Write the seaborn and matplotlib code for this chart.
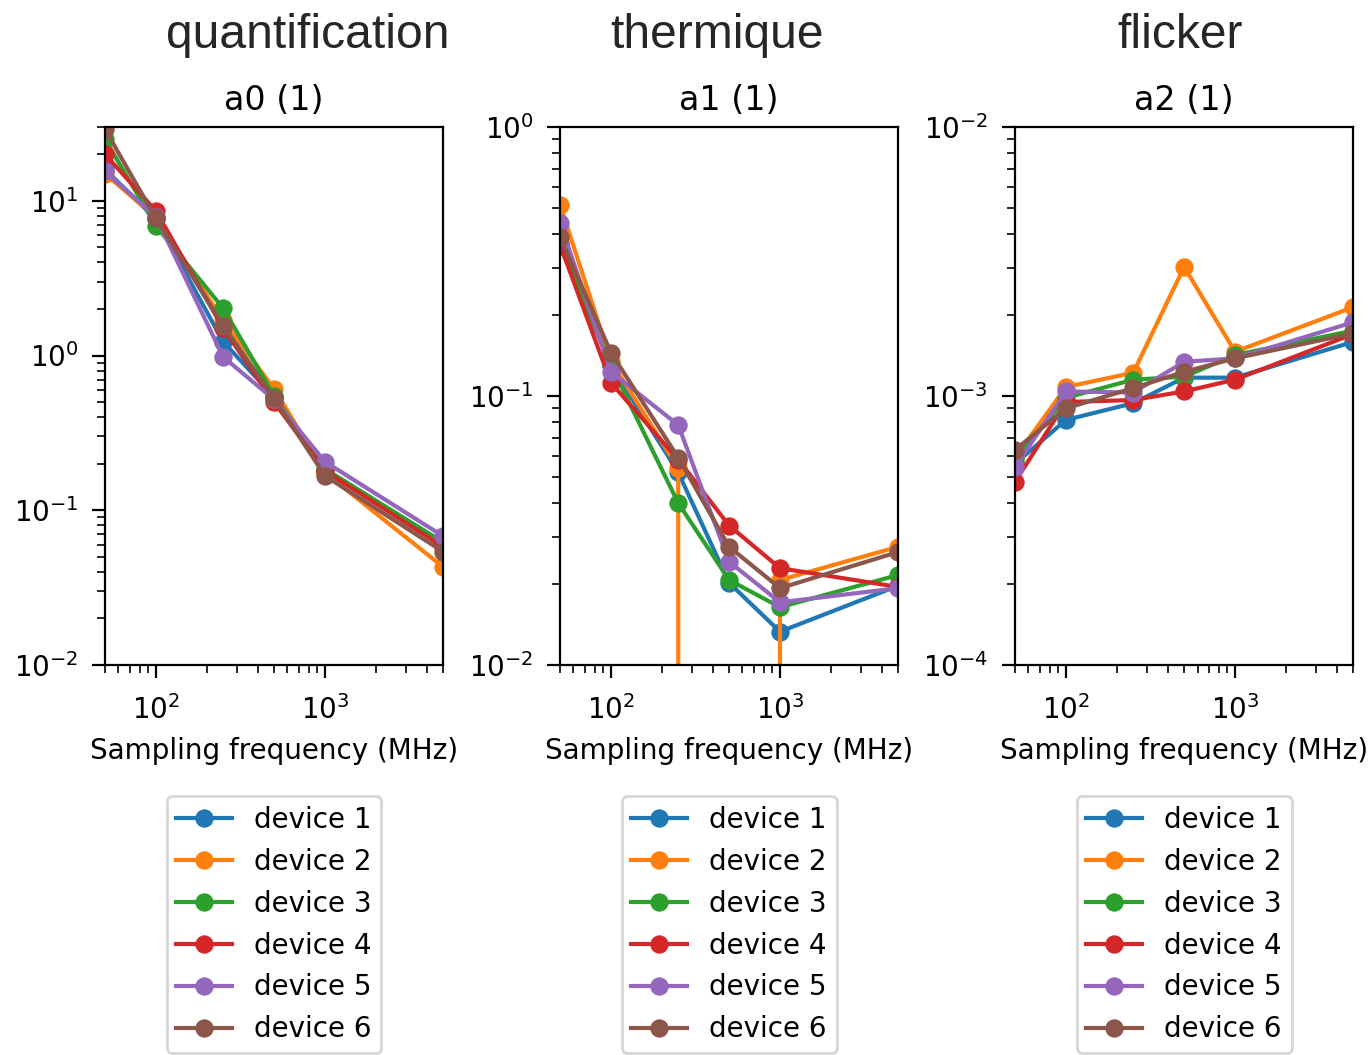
import numpy as np
import pandas as pd
import matplotlib
matplotlib.use("Agg")
import matplotlib.pyplot as plt
import seaborn as sns

freqs = [50, 100, 250, 500, 1000, 5000]
devices = ["device 1", "device 2", "device 3", "device 4", "device 5", "device 6"]
group_titles = ["quantification", "thermique", "flicker"]
panel_titles = ["a0 (1)", "a1 (1)", "a2 (1)"]
x_label = "Sampling frequency (MHz)"

a0 = {
    "device 1": [16.0, 7.6, 1.23, 0.54, 0.18, 0.062],
    "device 2": [15.0, 7.8, 1.69, 0.61, 0.175, 0.043],
    "device 3": [25.0, 6.9, 2.02, 0.55, 0.185, 0.062],
    "device 4": [20.0, 8.6, 1.50, 0.50, 0.18, 0.058],
    "device 5": [15.5, 7.9, 0.98, 0.52, 0.206, 0.068],
    "device 6": [29.0, 7.7, 1.56, 0.53, 0.167, 0.054],
}
a1 = {
    "device 1": [0.37, 0.13, 0.052, 0.0202, 0.0133, 0.0197],
    "device 2": [0.513, 0.135, 0.054, -0.01, 0.0207, 0.0275],
    "device 3": [0.36, 0.13, 0.040, 0.0207, 0.0164, 0.0216],
    "device 4": [0.365, 0.112, 0.058, 0.033, 0.0229, 0.0195],
    "device 5": [0.44, 0.123, 0.078, 0.0242, 0.0171, 0.0193],
    "device 6": [0.39, 0.145, 0.059, 0.0275, 0.0193, 0.0263],
}
a2 = {
    "device 1": [5.6e-4, 0.815e-3, 0.94e-3, 1.17e-3, 1.17e-3, 1.59e-3],
    "device 2": [5.9e-4, 1.08e-3, 1.22e-3, 3.02e-3, 1.46e-3, 2.14e-3],
    "device 3": [5.8e-4, 0.985e-3, 1.15e-3, 1.18e-3, 1.42e-3, 1.75e-3],
    "device 4": [4.8e-4, 0.95e-3, 0.966e-3, 1.04e-3, 1.15e-3, 1.70e-3],
    "device 5": [5.45e-4, 1.04e-3, 1.03e-3, 1.34e-3, 1.38e-3, 1.88e-3],
    "device 6": [6.3e-4, 0.90e-3, 1.07e-3, 1.23e-3, 1.38e-3, 1.71e-3],
}
ylims = [(1e-2, 30), (1e-2, 1), (1e-4, 1e-2)]

def to_long(d):
    rows = []
    for dev in devices:
        for f, v in zip(freqs, d[dev]):
            rows.append({"freq": f, "value": v, "device": dev})
    return pd.DataFrame(rows)

palette = sns.color_palette("tab10", 6)

DPI = 200
fig, axes = plt.subplots(1, 3, figsize=(1371 / DPI, 1055 / DPI), dpi=DPI)
fig.subplots_adjust(left=0.0766, right=0.987, top=0.8796, bottom=0.3697, wspace=0.346)

for ax, data, title, yl in zip(axes, [a0, a1, a2], panel_titles, ylims):
    df = to_long(data)
    sns.lineplot(data=df, x="freq", y="value", hue="device", hue_order=devices,
                 palette=palette, marker="o", estimator=None, legend=False,
                 linewidth=1.5, markersize=6, ax=ax)
    for line in ax.lines:
        line.set_markeredgecolor(line.get_color())
        line.set_markeredgewidth(0.6)
    ax.set_xscale("log")
    ax.set_yscale("log")
    ax.set_xlim(50, 5000)
    ax.set_ylim(*yl)
    ax.set_title(title, fontsize=12)
    ax.set_xlabel(x_label, fontsize=10)
    ax.set_ylabel("")
    ax.tick_params(labelsize=10)
    ax.tick_params(which="major", length=4.7)
    ax.tick_params(which="minor", length=2.9)
    ax.tick_params(axis="x", which="major", pad=6.3)
    ax.tick_params(axis="y", which="major", pad=5.0)
    ax.legend(ax.lines[:6], devices, loc="upper center",
              bbox_to_anchor=(0.5, -0.218), fontsize=10, borderpad=0.35)

for txt, xc in zip(group_titles, [308, 717, 1180]):
    fig.text(xc / 1371, 1 - 36 / 1055, txt, ha="center", va="center",
             fontsize=17.3, color="#262626", family=["Liberation Sans", "DejaVu Sans"])

fig.savefig("out.png", dpi=DPI)
